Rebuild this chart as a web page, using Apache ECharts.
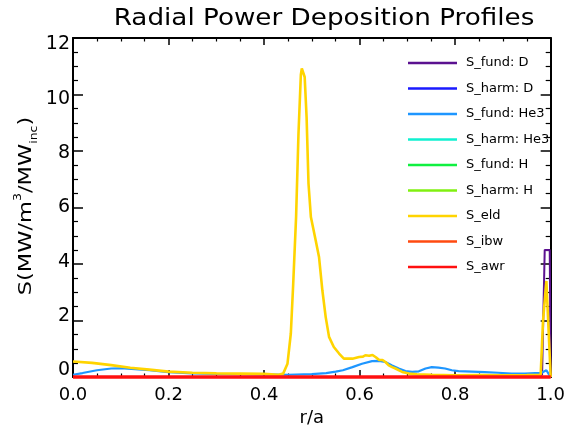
<!DOCTYPE html>
<html>
<head>
<meta charset="utf-8">
<script src="https://cdn.jsdelivr.net/npm/echarts@6/dist/echarts.min.js"></script>
<style>
  html, body { margin: 0; padding: 0; background: #ffffff; }
  #chart { width: 568px; height: 434px; }
</style>
</head>
<body>
<div id="chart"></div>
<script>
// Radial power deposition profiles, S in MW/m^3 per MW incident, vs r/a

const seriesNames = ['S_fund: D', 'S_harm: D', 'S_fund: He3', 'S_harm: He3',
  'S_fund: H', 'S_harm: H', 'S_eld', 'S_ibw', 'S_awr'];
const seriesColors = ['#5b1190', '#1a1aff', '#1e96ff', '#10f0d0',
  '#10f040', '#80f010', '#ffd400', '#ff4a10', '#ff1010'];

const xTicks = [0, 0.2, 0.4, 0.6, 0.8, 1.0];
const yTicks = [0, 2, 4, 6, 8, 10, 12];

// fundamental D absorption: small tail near the edge, sharp edge peak
const fundDR = [0, 0.70, 0.80, 0.90, 0.96, 0.982, 0.986, 0.9875, 0.998, 1.0];
const fundDS = [0, 0, 0.03, 0.06, 0.05, 0.08, 0.1, 4.5, 4.5, 0];

// fundamental He3 absorption
const fundHe3R = [0, 0.02, 0.05, 0.08, 0.10, 0.13, 0.16, 0.20, 0.25, 0.30, 0.35, 0.40,
  0.45, 0.50, 0.53, 0.55, 0.565, 0.585, 0.605, 0.626, 0.64, 0.654, 0.668, 0.682,
  0.696, 0.71, 0.724, 0.738, 0.751, 0.765, 0.779, 0.793, 0.807, 0.835, 0.862,
  0.89, 0.918, 0.946, 0.967, 0.981, 0.991, 0.996, 1.0];
const fundHe3S = [0.08, 0.14, 0.24, 0.30, 0.31, 0.28, 0.24, 0.17, 0.13, 0.11, 0.10, 0.09,
  0.08, 0.10, 0.14, 0.19, 0.24, 0.35, 0.47, 0.56, 0.57, 0.53, 0.41, 0.30,
  0.21, 0.18, 0.20, 0.30, 0.35, 0.33, 0.30, 0.24, 0.21, 0.19, 0.17,
  0.15, 0.12, 0.12, 0.14, 0.15, 0.24, 0.10, 0];

// electron Landau damping
const eldR = [0, 0.04, 0.08, 0.12, 0.16, 0.20, 0.25, 0.30, 0.35, 0.40, 0.43, 0.44,
  0.449, 0.456, 0.461, 0.467, 0.472, 0.477, 0.479, 0.482, 0.485, 0.489, 0.493,
  0.498, 0.508, 0.515, 0.522, 0.529, 0.536, 0.546, 0.557, 0.567, 0.585, 0.599,
  0.607, 0.612, 0.616, 0.620, 0.623, 0.627, 0.630, 0.634, 0.637, 0.641, 0.644,
  0.648, 0.654, 0.661, 0.668, 0.675, 0.689, 0.703, 0.72, 0.75, 0.80, 0.85,
  0.90, 0.95, 0.979, 0.984, 0.991, 1.0];
const eldS = [0.55, 0.50, 0.42, 0.33, 0.26, 0.19, 0.15, 0.13, 0.12, 0.11, 0.08, 0.12,
  0.47, 1.54, 3.3, 5.66, 8.6, 10.7, 10.92, 10.85, 10.62, 9.2, 6.85,
  5.66, 4.84, 4.25, 3.07, 2.12, 1.42, 1.06, 0.83, 0.65, 0.65, 0.71,
  0.72, 0.77, 0.83, 0.75, 0.71, 0.78, 0.77, 0.70, 0.65, 0.60, 0.59,
  0.60, 0.53, 0.41, 0.35, 0.30, 0.18, 0.12, 0.10, 0.08, 0.06, 0.07,
  0.06, 0.07, 0.08, 2.0, 3.4, 0];

// channels with no absorption
const zeroR = [0, 1.0];
const zeroS = [0, 0];

const profileR = [fundDR, zeroR, fundHe3R, zeroR, zeroR, zeroR, eldR, zeroR, zeroR];
const profileS = [fundDS, zeroS, fundHe3S, zeroS, zeroS, zeroS, eldS, zeroS, zeroS];
const lineWidths = [2, 2, 2.2, 2, 2, 2, 2.6, 2, 3.5];

const FONT = 'DejaVu Sans';

function pairs(xs, ys) {
  return xs.map((x, i) => [x, ys[i]]);
}

// y tick labels sit slightly inward toward the middle of the frame
const yLabelRich = {};
yTicks.forEach(v => {
  const d = 6.3 - (12 - v) * 1.08;
  yLabelRich['t' + v] = {
    fontFamily: FONT, fontSize: 19, color: '#000',
    padding: d >= 0 ? [2 * d, 0, 0, 0] : [0, 0, -2 * d, 0]
  };
});

const chart = echarts.init(document.getElementById('chart'), null, { renderer: 'canvas' });

const axisLineStyle = { color: '#000', width: 2 };

const option = {
  backgroundColor: '#ffffff',
  animation: false,
  grid: { left: 73, right: 15, top: 38, bottom: 57, containLabel: false },
  legend: {
    orient: 'vertical', left: 408, top: 56, padding: 0,
    itemWidth: 49, itemHeight: 2.5, itemGap: 11.5,
    icon: 'rect', selectedMode: false,
    data: seriesNames,
    textStyle: { fontFamily: FONT, fontSize: 13, color: '#000', lineHeight: 14, padding: [0, 0, 0, 4] }
  },
  graphic: [{
    // plot title, a little wider than the plain font
    type: 'text', x: 324, y: 19, scaleX: 1.14,
    style: {
      text: 'Radial Power Deposition Profiles',
      fontFamily: FONT, fontSize: 23, fill: '#000',
      align: 'center', verticalAlign: 'middle'
    }
  }, {
    // rotated y-axis title, stretched along its run
    type: 'text', x: 26, y: 206, rotation: Math.PI / 2, scaleX: 1.25,
    style: {
      text: '{a|S(MW/m}{sup|3}{a|/MW}{sub|inc}{a|)}',
      align: 'center', verticalAlign: 'middle',
      rich: {
        a: { fontFamily: FONT, fontSize: 18, color: '#000', lineHeight: 26 },
        sup: { fontFamily: FONT, fontSize: 10, color: '#000', verticalAlign: 'top', lineHeight: 13 },
        sub: { fontFamily: FONT, fontSize: 10, color: '#000', verticalAlign: 'bottom', lineHeight: 13 }
      }
    }
  }],
  xAxis: [{
    type: 'value', position: 'bottom', min: 0, max: 1, interval: 0.2,
    axisLine: { show: true, onZero: false, lineStyle: axisLineStyle },
    axisTick: { show: true, inside: true, length: 7, lineStyle: { color: '#000', width: 1.5 } },
    minorTick: { show: true, splitNumber: 4, length: 3.5, lineStyle: { color: '#000', width: 1.2 } },
    splitLine: { show: false },
    axisLabel: {
      fontFamily: FONT, fontSize: 18, color: '#000', margin: 9,
      formatter: v => xTicks.some(t => Math.abs(t - v) < 1e-9) ? v.toFixed(1) : ''
    },
    name: 'r/a', nameLocation: 'middle', nameGap: 32,
    nameTextStyle: { fontFamily: FONT, fontSize: 18, color: '#000' }
  }, {
    type: 'value', position: 'top', min: 0, max: 1, interval: 0.2,
    axisLine: { show: true, onZero: false, lineStyle: axisLineStyle },
    axisTick: { show: true, inside: true, length: 7, lineStyle: { color: '#000', width: 1.5 } },
    minorTick: { show: true, splitNumber: 4, length: 3.5, lineStyle: { color: '#000', width: 1.2 } },
    splitLine: { show: false },
    axisLabel: { show: false }
  }],
  yAxis: [{
    type: 'value', position: 'left', min: 0, max: 12, interval: 2,
    axisLine: { show: true, onZero: false, lineStyle: axisLineStyle },
    axisTick: { show: true, inside: true, length: 10, lineStyle: { color: '#000', width: 1.5 } },
    minorTick: { show: true, splitNumber: 4, length: 5, lineStyle: { color: '#000', width: 1.2 } },
    splitLine: { show: false },
    axisLabel: {
      margin: 3,
      formatter: v => '{t' + v + '|' + v + '}',
      rich: yLabelRich
    }
  }, {
    type: 'value', position: 'right', min: 0, max: 12, interval: 2,
    axisLine: { show: true, onZero: false, lineStyle: axisLineStyle },
    axisTick: { show: true, inside: true, length: 10, lineStyle: { color: '#000', width: 1.5 } },
    minorTick: { show: true, splitNumber: 4, length: 5, lineStyle: { color: '#000', width: 1.2 } },
    splitLine: { show: false },
    axisLabel: { show: false }
  }],
  series: seriesNames.map((name, i) => ({
    name: name,
    type: 'line',
    xAxisIndex: 0, yAxisIndex: 0,
    data: pairs(profileR[i], profileS[i]),
    showSymbol: false, symbol: 'none',
    clip: false,
    color: seriesColors[i],
    itemStyle: { color: seriesColors[i] },
    lineStyle: { color: seriesColors[i], width: lineWidths[i] },
    emphasis: { disabled: true }
  }))
};

chart.setOption(option);
</script>
</body>
</html>
